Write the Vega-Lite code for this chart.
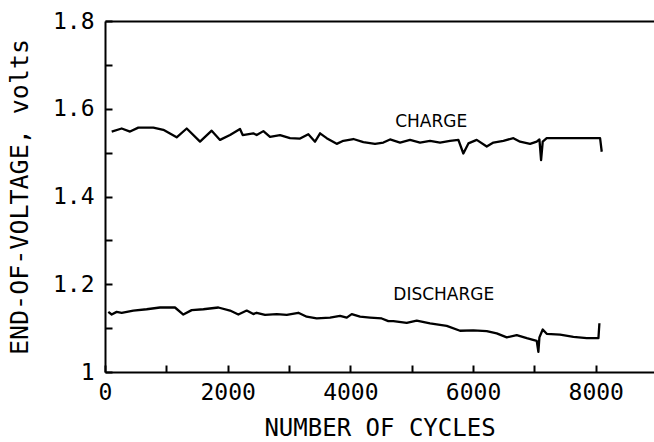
{
  "$schema": "https://vega.github.io/schema/vega-lite/v6.json",
  "width": 549,
  "height": 351,
  "autosize": {"type": "none"},
  "padding": {"left": 105, "top": 21, "right": 0, "bottom": 70},
  "background": "white",
  "config": {
    "view": {"stroke": null},
    "axis": {
      "domainColor": "black", "domainWidth": 2,
      "tickColor": "black", "tickWidth": 2, "tickSize": -7,
      "labelColor": "black", "labelFont": "DejaVu Sans Mono", "labelFontSize": 23,
      "titleColor": "black", "titleFont": "DejaVu Sans Mono", "titleFontWeight": "normal",
      "grid": false
    }
  },
  "datasets": {
    "curves": [
      {"series": "charge", "cycles": 109, "volts": 1.548},
      {"series": "charge", "cycles": 272, "volts": 1.555},
      {"series": "charge", "cycles": 408, "volts": 1.548},
      {"series": "charge", "cycles": 543, "volts": 1.557},
      {"series": "charge", "cycles": 788, "volts": 1.557},
      {"series": "charge", "cycles": 951, "volts": 1.552},
      {"series": "charge", "cycles": 1168, "volts": 1.535},
      {"series": "charge", "cycles": 1332, "volts": 1.555},
      {"series": "charge", "cycles": 1549, "volts": 1.525},
      {"series": "charge", "cycles": 1739, "volts": 1.55},
      {"series": "charge", "cycles": 1875, "volts": 1.529},
      {"series": "charge", "cycles": 2038, "volts": 1.54},
      {"series": "charge", "cycles": 2201, "volts": 1.554},
      {"series": "charge", "cycles": 2245, "volts": 1.54},
      {"series": "charge", "cycles": 2418, "volts": 1.544},
      {"series": "charge", "cycles": 2473, "volts": 1.54},
      {"series": "charge", "cycles": 2582, "volts": 1.549},
      {"series": "charge", "cycles": 2690, "volts": 1.536},
      {"series": "charge", "cycles": 2853, "volts": 1.54},
      {"series": "charge", "cycles": 3016, "volts": 1.533},
      {"series": "charge", "cycles": 3180, "volts": 1.532},
      {"series": "charge", "cycles": 3315, "volts": 1.542},
      {"series": "charge", "cycles": 3424, "volts": 1.525},
      {"series": "charge", "cycles": 3506, "volts": 1.544},
      {"series": "charge", "cycles": 3614, "volts": 1.533},
      {"series": "charge", "cycles": 3777, "volts": 1.52},
      {"series": "charge", "cycles": 3886, "volts": 1.527},
      {"series": "charge", "cycles": 4049, "volts": 1.531},
      {"series": "charge", "cycles": 4212, "volts": 1.524},
      {"series": "charge", "cycles": 4402, "volts": 1.52},
      {"series": "charge", "cycles": 4538, "volts": 1.523},
      {"series": "charge", "cycles": 4647, "volts": 1.53},
      {"series": "charge", "cycles": 4810, "volts": 1.523},
      {"series": "charge", "cycles": 4973, "volts": 1.529},
      {"series": "charge", "cycles": 5136, "volts": 1.523},
      {"series": "charge", "cycles": 5299, "volts": 1.527},
      {"series": "charge", "cycles": 5462, "volts": 1.523},
      {"series": "charge", "cycles": 5625, "volts": 1.527},
      {"series": "charge", "cycles": 5761, "volts": 1.529},
      {"series": "charge", "cycles": 5842, "volts": 1.498},
      {"series": "charge", "cycles": 5924, "volts": 1.521},
      {"series": "charge", "cycles": 6060, "volts": 1.529},
      {"series": "charge", "cycles": 6223, "volts": 1.514},
      {"series": "charge", "cycles": 6332, "volts": 1.523},
      {"series": "charge", "cycles": 6495, "volts": 1.527},
      {"series": "charge", "cycles": 6658, "volts": 1.533},
      {"series": "charge", "cycles": 6766, "volts": 1.525},
      {"series": "charge", "cycles": 6930, "volts": 1.52},
      {"series": "charge", "cycles": 7038, "volts": 1.525},
      {"series": "charge", "cycles": 7082, "volts": 1.53},
      {"series": "charge", "cycles": 7109, "volts": 1.483},
      {"series": "charge", "cycles": 7136, "volts": 1.525},
      {"series": "charge", "cycles": 7201, "volts": 1.533},
      {"series": "charge", "cycles": 7527, "volts": 1.533},
      {"series": "charge", "cycles": 7745, "volts": 1.533},
      {"series": "charge", "cycles": 8071, "volts": 1.533},
      {"series": "charge", "cycles": 8098, "volts": 1.502},
      {"series": "discharge", "cycles": 54, "volts": 1.137},
      {"series": "discharge", "cycles": 109, "volts": 1.131},
      {"series": "discharge", "cycles": 190, "volts": 1.137},
      {"series": "discharge", "cycles": 272, "volts": 1.135},
      {"series": "discharge", "cycles": 462, "volts": 1.14},
      {"series": "discharge", "cycles": 679, "volts": 1.143},
      {"series": "discharge", "cycles": 897, "volts": 1.147},
      {"series": "discharge", "cycles": 1141, "volts": 1.147},
      {"series": "discharge", "cycles": 1277, "volts": 1.131},
      {"series": "discharge", "cycles": 1413, "volts": 1.141},
      {"series": "discharge", "cycles": 1603, "volts": 1.143},
      {"series": "discharge", "cycles": 1848, "volts": 1.147},
      {"series": "discharge", "cycles": 2038, "volts": 1.14},
      {"series": "discharge", "cycles": 2174, "volts": 1.131},
      {"series": "discharge", "cycles": 2310, "volts": 1.14},
      {"series": "discharge", "cycles": 2418, "volts": 1.132},
      {"series": "discharge", "cycles": 2473, "volts": 1.135},
      {"series": "discharge", "cycles": 2609, "volts": 1.13},
      {"series": "discharge", "cycles": 2800, "volts": 1.132},
      {"series": "discharge", "cycles": 2963, "volts": 1.13},
      {"series": "discharge", "cycles": 3152, "volts": 1.135},
      {"series": "discharge", "cycles": 3288, "volts": 1.126},
      {"series": "discharge", "cycles": 3451, "volts": 1.122},
      {"series": "discharge", "cycles": 3669, "volts": 1.124},
      {"series": "discharge", "cycles": 3832, "volts": 1.128},
      {"series": "discharge", "cycles": 3941, "volts": 1.124},
      {"series": "discharge", "cycles": 4022, "volts": 1.132},
      {"series": "discharge", "cycles": 4158, "volts": 1.126},
      {"series": "discharge", "cycles": 4321, "volts": 1.124},
      {"series": "discharge", "cycles": 4511, "volts": 1.122},
      {"series": "discharge", "cycles": 4619, "volts": 1.116},
      {"series": "discharge", "cycles": 4701, "volts": 1.116},
      {"series": "discharge", "cycles": 4919, "volts": 1.112},
      {"series": "discharge", "cycles": 5082, "volts": 1.117},
      {"series": "discharge", "cycles": 5299, "volts": 1.111},
      {"series": "discharge", "cycles": 5571, "volts": 1.105},
      {"series": "discharge", "cycles": 5788, "volts": 1.094},
      {"series": "discharge", "cycles": 6005, "volts": 1.095},
      {"series": "discharge", "cycles": 6223, "volts": 1.093},
      {"series": "discharge", "cycles": 6386, "volts": 1.088},
      {"series": "discharge", "cycles": 6549, "volts": 1.079},
      {"series": "discharge", "cycles": 6712, "volts": 1.084},
      {"series": "discharge", "cycles": 6876, "volts": 1.077},
      {"series": "discharge", "cycles": 7038, "volts": 1.071},
      {"series": "discharge", "cycles": 7065, "volts": 1.046},
      {"series": "discharge", "cycles": 7082, "volts": 1.079},
      {"series": "discharge", "cycles": 7136, "volts": 1.097},
      {"series": "discharge", "cycles": 7201, "volts": 1.087},
      {"series": "discharge", "cycles": 7419, "volts": 1.085},
      {"series": "discharge", "cycles": 7636, "volts": 1.08},
      {"series": "discharge", "cycles": 7854, "volts": 1.077},
      {"series": "discharge", "cycles": 8044, "volts": 1.077},
      {"series": "discharge", "cycles": 8060, "volts": 1.111}
    ],
    "labels": [
      {"label": "CHARGE", "cycles": 4730, "volts": 1.57},
      {"label": "DISCHARGE", "cycles": 4700, "volts": 1.175}
    ]
  },
  "layer": [
    {
      "data": {"name": "curves"},
      "mark": {"type": "line", "color": "black", "strokeWidth": 2.3, "strokeJoin": "round"},
      "encoding": {
        "x": {
          "field": "cycles", "type": "quantitative",
          "scale": {"domain": [0, 8950], "nice": false, "zero": false},
          "axis": {
            "orient": "bottom",
            "values": [0, 1000, 2000, 3000, 4000, 5000, 6000, 7000, 8000],
            "labelExpr": "datum.value % 2000 == 0 ? datum.value : ''",
            "labelPadding": 16,
            "labelFlush": false,
            "title": "NUMBER OF CYCLES",
            "titleFontSize": 24,
            "titlePadding": 12
          }
        },
        "y": {
          "field": "volts", "type": "quantitative",
          "scale": {"domain": [1, 1.8], "nice": false, "zero": false},
          "axis": {
            "values": [1, 1.1, 1.2, 1.3, 1.4, 1.5, 1.6, 1.7, 1.8],
            "labelExpr": "datum.value == 1 ? '1' : (round(datum.value * 10) % 2 == 0 ? format(datum.value, '.1f') : '')",
            "labelPadding": 18,
            "labelFlush": false,
            "title": "END-OF-VOLTAGE, volts",
            "titleFontSize": 25,
            "titlePadding": 20
          }
        },
        "detail": {"field": "series"}
      }
    },
    {
      "data": {"name": "labels"},
      "mark": {"type": "text", "align": "left", "baseline": "middle", "font": "DejaVu Sans", "fontSize": 17, "color": "black"},
      "encoding": {
        "x": {
          "field": "cycles", "type": "quantitative",
          "axis": {"orient": "top", "labels": false, "ticks": false, "title": null, "domain": true}
        },
        "y": {"field": "volts", "type": "quantitative", "axis": null},
        "text": {"field": "label"}
      }
    }
  ],
  "resolve": {"axis": {"x": "independent", "y": "independent"}}
}
